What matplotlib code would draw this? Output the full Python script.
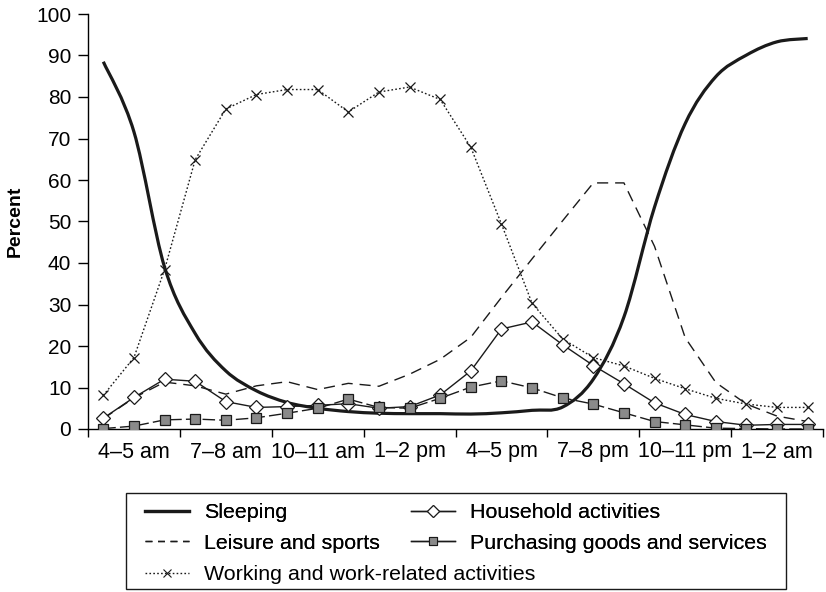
import matplotlib
matplotlib.use("Agg")
import matplotlib.pyplot as plt
from matplotlib.path import Path
from matplotlib.patches import PathPatch, Rectangle
from matplotlib.lines import Line2D

plt.rcParams['font.family'] = ['Liberation Sans', 'DejaVu Sans']

# one value per hour of the day, first bar = 3-4 am
tick_labels = ["4–5 am", "7–8 am", "10–11 am", "1–2 pm", "4–5 pm", "7–8 pm", "10–11 pm", "1–2 am"]

sleeping = [88.5, 71.6, 39.0, 23.0, 14.0, 9.2, 6.4, 5.0, 4.2, 3.8, 3.7, 3.7,
            3.6, 3.9, 4.5, 5.3, 12.0, 27.0, 53.5, 73.6, 84.9, 90.1, 93.3, 94.1]
leisure = [2.5, 7.5, 11.3, 10.4, 8.4, 10.4, 11.4, 9.5, 11.0, 10.3, 13.2, 16.8,
           22.1, 31.7, 41.0, 50.2, 59.3, 59.3, 44.0, 22.0, 11.2, 6.0, 3.1, 1.8]
working = [8.1, 17.2, 38.4, 64.9, 77.1, 80.6, 81.8, 81.8, 76.4, 81.2, 82.4, 79.4,
           67.9, 49.4, 30.3, 21.7, 17.2, 15.2, 12.2, 9.7, 7.4, 6.0, 5.2, 5.2]
household = [2.6, 7.6, 12.0, 11.5, 6.6, 5.2, 5.4, 5.7, 6.1, 5.0, 5.4, 8.2,
             14.0, 24.1, 25.8, 20.3, 15.3, 10.9, 6.3, 3.5, 1.8, 0.9, 1.1, 1.1]
purchasing = [0.1, 0.7, 2.2, 2.4, 2.1, 2.7, 3.8, 5.0, 7.2, 5.2, 5.0, 7.4,
              10.1, 11.6, 9.9, 7.5, 6.0, 3.9, 1.8, 1.0, 0.2, 0.1, 0.0, 0.0]


def smooth_path(xs, ys):
    # bezier segments like a spreadsheet "smoothed line"
    n = len(xs)
    verts = [(xs[0], ys[0])]
    codes = [Path.MOVETO]
    for i in range(n - 1):
        x0, y0 = (xs[i - 1], ys[i - 1]) if i > 0 else (xs[i], ys[i])
        x1, y1 = xs[i], ys[i]
        x2, y2 = xs[i + 1], ys[i + 1]
        x3, y3 = (xs[i + 2], ys[i + 2]) if i + 2 < n else (x2, y2)
        c1 = (x1 + (x2 - x0) / 6, y1 + (y2 - y0) / 6)
        c2 = (x2 - (x3 - x1) / 6, y2 - (y3 - y1) / 6)
        verts += [c1, c2, (x2, y2)]
        codes += [Path.CURVE4] * 3
    return Path(verts, codes)


fig = plt.figure(figsize=(8.26, 5.92), dpi=100)
ax = fig.add_axes([88 / 826, 1 - 429 / 592, (823 - 88) / 826, (429 - 14) / 592])

x = list(range(len(sleeping)))

ax.add_patch(PathPatch(smooth_path(x, sleeping), fill=False, edgecolor='#1a1a1a', lw=2.3, zorder=2))
ax.plot(x, leisure, color='#1a1a1a', lw=1.0, dashes=(8, 5), zorder=3)
ax.plot(x, working, color='#1a1a1a', lw=1.0, dashes=(1.2, 1.6), marker='x', ms=7, mew=0.9, zorder=3)
ax.plot(x, household, color='#1a1a1a', lw=1.0, marker='D', ms=7, mfc='white', mec='#1a1a1a', mew=0.9, zorder=4)
ax.plot(x, purchasing, color='#1a1a1a', lw=1.0, dashes=(9, 3), marker='s', ms=7.5, mfc='#8a8a8a',
        mec='#1a1a1a', mew=0.9, zorder=4)

ax.set_xlim(-0.5, 23.5)
ax.set_ylim(0, 100)
ax.set_yticks(range(0, 101, 10))
ax.set_xticks([i - 0.5 for i in range(0, 25, 3)])
ax.set_xticklabels([])
ax.set_xticks(range(1, 24, 3), minor=True)
ax.set_xticklabels(tick_labels, minor=True)
ax.tick_params(axis='x', which='minor', length=0, pad=9, labelsize=15.5)
ax.tick_params(axis='x', which='major', length=6, width=1)
ax.tick_params(axis='y', length=7, width=1, pad=5, labelsize=15)
for s in ['top', 'right']:
    ax.spines[s].set_visible(False)
for s in ['left', 'bottom']:
    ax.spines[s].set_linewidth(1)
ax.set_ylabel("Percent", fontweight='bold', fontsize=14, labelpad=9)

h_sleep = Line2D([], [], color='#1a1a1a', lw=2.3)
h_leis = Line2D([], [], color='#1a1a1a', lw=1.0, dashes=(5, 4))
h_work = Line2D([], [], color='#1a1a1a', lw=1.0, dashes=(1.2, 1.6), marker='x', ms=6, mew=0.8)
h_house = Line2D([], [], color='#1a1a1a', lw=1.0, marker='D', ms=6, mfc='white', mew=0.8)
h_purch = Line2D([], [], color='#1a1a1a', lw=1.0, marker='s', ms=6, mfc='#8a8a8a', mew=0.8)

leg_kw = dict(frameon=False, fontsize=15.4, handlelength=2.05, handletextpad=0.7,
              borderpad=0, borderaxespad=0, labelspacing=0.55)
leg1 = fig.legend([h_sleep, h_leis, h_house, h_purch],
                  ["Sleeping", "Leisure and sports", "Household activities", "Purchasing goods and services"],
                  ncol=2, columnspacing=1.45, loc='upper left',
                  bbox_to_anchor=(145 / 826, 1 - 503 / 592), **leg_kw)
leg2 = fig.legend([h_work], ["Working and work-related activities"], loc='upper left',
                  bbox_to_anchor=(145 / 826, 1 - 565 / 592), **leg_kw)
fig.add_artist(leg1)
fig.patches.append(Rectangle((126 / 826, 1 - 589 / 592), (786 - 126) / 826, (589 - 493) / 592,
                             transform=fig.transFigure, fill=False, edgecolor='#1a1a1a', lw=1))

fig.savefig("out.png", dpi=100)
